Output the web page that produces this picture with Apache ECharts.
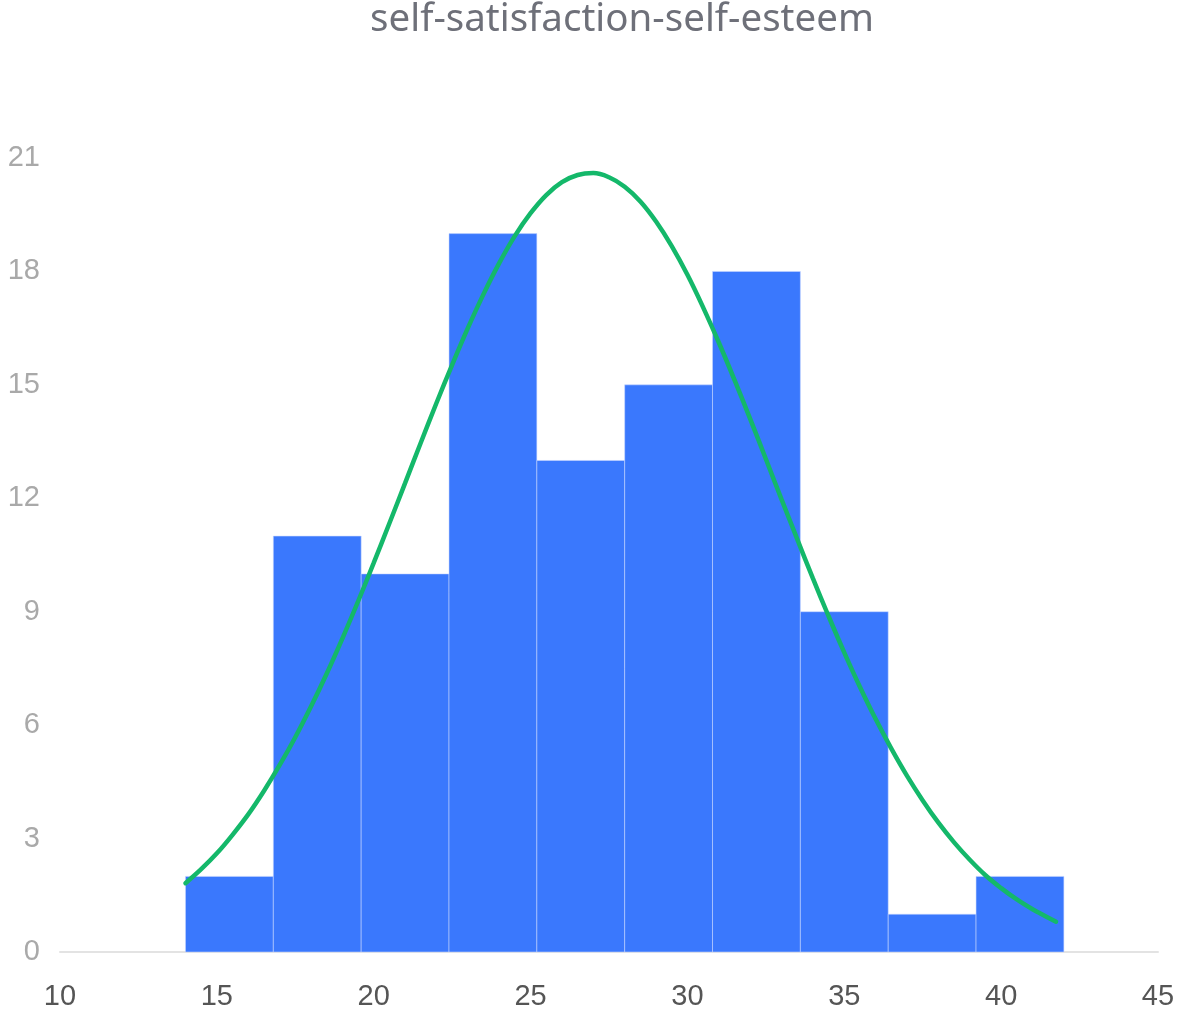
<!DOCTYPE html>
<html>
<head>
<meta charset="utf-8">
<title>self-satisfaction-self-esteem</title>
<script src="https://cdn.jsdelivr.net/npm/echarts@6/dist/echarts.min.js"></script>
<style>
  html, body { margin: 0; padding: 0; background: #ffffff; }
  #chart { width: 1183px; height: 1014px; }
</style>
</head>
<body>
<div id="chart"></div>
<script>
// Histogram bins: lower / upper edge of each bin and its count
var binStart = [14.0, 16.8, 19.6, 22.4, 25.2, 28.0, 30.8, 33.6, 36.4, 39.2];
var binEnd   = [16.8, 19.6, 22.4, 25.2, 28.0, 30.8, 33.6, 36.4, 39.2, 42.0];
var counts   = [2, 11, 10, 19, 13, 15, 18, 9, 1, 2];

// Fitted normal curve, sampled every half point along the score axis
var curveX = [14, 14.5, 15, 15.5, 16, 16.5, 17, 17.5, 18, 18.5, 19, 19.5,
              20, 20.5, 21, 21.5, 22, 22.5, 23, 23.5, 24, 24.5, 25, 25.5,
              26, 26.5, 27, 27.5, 28, 28.5, 29, 29.5, 30, 30.5, 31, 31.5,
              32, 32.5, 33, 33.5, 34, 34.5, 35, 35.5, 36, 36.5, 37, 37.5,
              38, 38.5, 39, 39.5, 40, 40.5, 41, 41.25, 41.75];
var curveY = [1.82, 2.19, 2.61, 3.10, 3.64, 4.26, 4.94, 5.68, 6.49, 7.36, 8.29, 9.27,
              10.29, 11.34, 12.40, 13.47, 14.52, 15.53, 16.50, 17.40, 18.22, 18.94, 19.54, 20.02,
              20.36, 20.55, 20.60, 20.49, 20.24, 19.85, 19.32, 18.67, 17.91, 17.05, 16.12, 15.13,
              14.10, 13.04, 11.97, 10.92, 9.88, 8.88, 7.92, 7.01, 6.16, 5.38, 4.66, 4.01,
              3.42, 2.90, 2.44, 2.03, 1.69, 1.39, 1.13, 1.02, 0.80];

// Axis ranges and ticks
var xTicks = { min: 10, max: 45, step: 5 };
var yTicks = { min: 0, max: 21, step: 3 };

var binData = binStart.map(function (s, i) { return [s, binEnd[i], counts[i]]; });
var curveData = curveX.map(function (x, i) { return [x, curveY[i]]; });

var chart = echarts.init(document.getElementById('chart'), null, { renderer: 'canvas' });

chart.setOption({
  animation: false,
  backgroundColor: '#ffffff',
  title: {
    text: 'self-satisfaction-self-esteem',
    left: 617,
    textAlign: 'center',
    top: -4,
    textStyle: {
      color: '#6e7079',
      fontSize: 38.5,
      fontWeight: 'normal',
      fontFamily: 'Noto Sans, Liberation Sans, sans-serif'
    }
  },
  grid: { left: 60, right: 25, top: 158, bottom: 62, containLabel: false },
  xAxis: {
    type: 'value',
    min: xTicks.min,
    max: xTicks.max,
    interval: xTicks.step,
    axisLine: { show: true, lineStyle: { color: '#e3e3e3', width: 2 } },
    axisTick: { show: false },
    splitLine: { show: false },
    axisLabel: {
      color: '#555555',
      fontSize: 29,
      margin: 30,
      fontFamily: 'Liberation Sans, Arial, sans-serif'
    }
  },
  yAxis: {
    type: 'value',
    min: yTicks.min,
    max: yTicks.max,
    interval: yTicks.step,
    axisLine: { show: false },
    axisTick: { show: false },
    splitLine: { show: false },
    axisLabel: {
      color: '#a9a9a9',
      fontSize: 29,
      margin: 20,
      fontFamily: 'Liberation Sans, Arial, sans-serif'
    }
  },
  series: [
    {
      name: 'count',
      type: 'custom',
      data: binData,
      encode: { x: [0, 1], y: 2 },
      renderItem: function (params, api) {
        var p0 = api.coord([api.value(0), api.value(2)]);
        var p1 = api.coord([api.value(1), 0]);
        return {
          type: 'rect',
          shape: { x: p0[0], y: p0[1], width: p1[0] - p0[0], height: p1[1] - p0[1] },
          style: {
            fill: '#3a78fd',
            stroke: 'rgba(200,215,255,0.55)',
            lineWidth: 1
          }
        };
      },
      z: 2
    },
    {
      name: 'normal',
      type: 'line',
      data: curveData,
      smooth: 0.4,
      symbol: 'none',
      lineStyle: { color: '#14b86a', width: 4.5, cap: 'round' },
      z: 3
    }
  ]
});
</script>
</body>
</html>
